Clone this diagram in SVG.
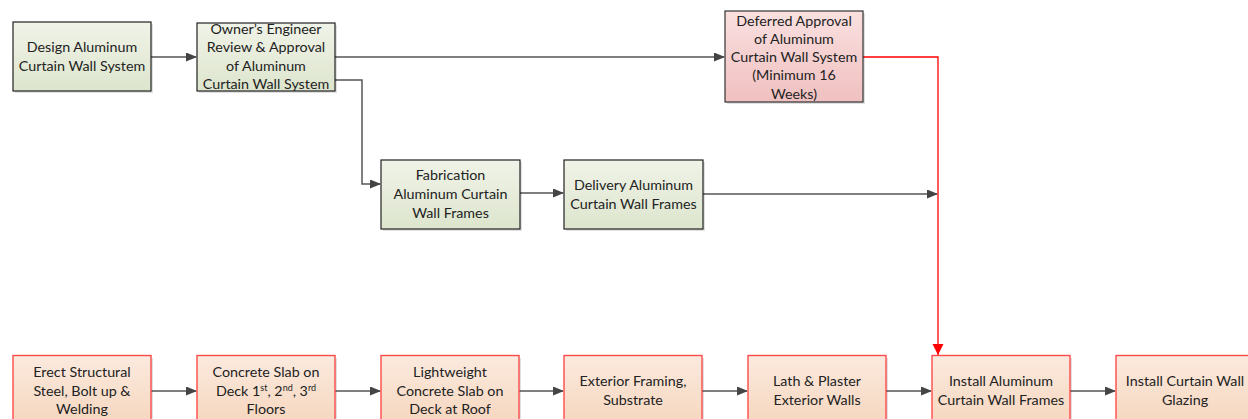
<svg xmlns="http://www.w3.org/2000/svg" width="1248" height="419" viewBox="0 0 1248 419">
<defs>
<linearGradient id="gG" x1="0" y1="0" x2="0" y2="1"><stop offset="0" stop-color="#f0f3e8"/><stop offset="1" stop-color="#dde5cd"/></linearGradient>
<linearGradient id="gP" x1="0" y1="0" x2="0" y2="1"><stop offset="0" stop-color="#fae0e0"/><stop offset="1" stop-color="#f0c0c0"/></linearGradient>
<linearGradient id="gO" x1="0" y1="0" x2="0" y2="1"><stop offset="0" stop-color="#fbeadf"/><stop offset="1" stop-color="#f6d6bd"/></linearGradient>
<marker id="ah" markerWidth="11" markerHeight="9" refX="10" refY="4.5" orient="auto" markerUnits="userSpaceOnUse"><path d="M0,0 L11,4.5 L0,9 z" fill="#444"/></marker>
</defs>
<style>
.sh{fill:#000;opacity:0.12}
.g{fill:url(#gG);stroke:#222;stroke-width:1.2}
.p{fill:url(#gP);stroke:#333;stroke-width:1.2}
.o{fill:url(#gO);stroke:#ff4a4a;stroke-width:1.4}
text{font-family:Lato,"Liberation Sans",sans-serif;font-size:14.3px;fill:#222;text-anchor:middle}
.c{fill:none;stroke:#555;stroke-width:1.5;marker-end:url(#ah)}
.cr{fill:none;stroke:#ff0000;stroke-width:1.3}
</style>
<g id="connectors">
<path class="c" d="M151,57 H196"/>
<path class="c" d="M335,57 H724"/>
<path class="c" d="M335,80 H362 V184 H380"/>
<path class="c" d="M520,193 H563"/>
<path class="c" d="M703,194 H937"/>
<path class="cr" d="M863,57 H938 V355"/>
<path d="M932.5,344 L943.5,344 L938,355 z" fill="#ff0000"/>
<path class="c" d="M151,391 H196"/>
<path class="c" d="M335,391 H380"/>
<path class="c" d="M519,391 H563"/>
<path class="c" d="M702,391 H747"/>
<path class="c" d="M886,391 H931"/>
<path class="c" d="M1070,391 H1115"/>
</g>
<g id="n1"><rect class="sh" x="15" y="24" width="138" height="69"/><rect class="g" x="13" y="22" width="138" height="69"/>
<text x="82" y="52">Design Aluminum</text><text x="82" y="71">Curtain Wall System</text></g>
<g id="n2"><rect class="sh" x="199" y="25" width="138" height="68"/><rect class="g" x="197" y="23" width="138" height="68"/>
<text x="266" y="34">Owner’s Engineer</text><text x="266" y="52">Review &amp; Approval</text><text x="266" y="71">of Aluminum</text><text x="266" y="89">Curtain Wall System</text></g>
<g id="n3"><rect class="sh" x="727" y="13" width="138" height="91"/><rect class="p" x="725" y="11" width="138" height="91"/>
<text x="794" y="25.5">Deferred Approval</text><text x="794" y="43.5">of Aluminum</text><text x="794" y="62">Curtain Wall System</text><text x="794" y="80">(Minimum 16</text><text x="794" y="98.5">Weeks)</text></g>
<g id="n4"><rect class="sh" x="383" y="162" width="139" height="69"/><rect class="g" x="381" y="160" width="139" height="69"/>
<text x="450.5" y="180">Fabrication</text><text x="450.5" y="199">Aluminum Curtain</text><text x="450.5" y="217.5">Wall Frames</text></g>
<g id="n5"><rect class="sh" x="566" y="162" width="139" height="69"/><rect class="g" x="564" y="160" width="139" height="69"/>
<text x="633.5" y="190">Delivery Aluminum</text><text x="633.5" y="208.5">Curtain Wall Frames</text></g>
<g id="b1"><rect class="sh" x="15" y="358" width="138" height="70"/><rect class="o" x="13" y="355.5" width="138" height="70"/>
<text x="82" y="377">Erect Structural</text><text x="82" y="395.5">Steel, Bolt up &amp;</text><text x="82" y="414">Welding</text></g>
<g id="b2"><rect class="sh" x="199" y="358" width="138" height="70"/><rect class="o" x="197" y="355.5" width="138" height="70"/>
<text x="266" y="377">Concrete Slab on</text><text x="266" y="395.5">Deck 1<tspan font-size="9" dy="-5">st</tspan><tspan dy="5">, 2</tspan><tspan font-size="9" dy="-5">nd</tspan><tspan dy="5">, 3</tspan><tspan font-size="9" dy="-5">rd</tspan></text><text x="266" y="414">Floors</text></g>
<g id="b3"><rect class="sh" x="383" y="358" width="138" height="70"/><rect class="o" x="381" y="355.5" width="138" height="70"/>
<text x="450" y="377">Lightweight</text><text x="450" y="395.5">Concrete Slab on</text><text x="450" y="414">Deck at Roof</text></g>
<g id="b4"><rect class="sh" x="566" y="358" width="138" height="70"/><rect class="o" x="564" y="355.5" width="138" height="70"/>
<text x="633" y="386">Exterior Framing,</text><text x="633" y="404.5">Substrate</text></g>
<g id="b5"><rect class="sh" x="750" y="358" width="138" height="70"/><rect class="o" x="748" y="355.5" width="138" height="70"/>
<text x="817" y="386">Lath &amp; Plaster</text><text x="817" y="404.5">Exterior Walls</text></g>
<g id="b6"><rect class="sh" x="934" y="358" width="138" height="70"/><rect class="o" x="932" y="355.5" width="138" height="70"/>
<text x="1001" y="386">Install Aluminum</text><text x="1001" y="404.5">Curtain Wall Frames</text></g>
<g id="b7"><rect class="sh" x="1118" y="358" width="138" height="70"/><rect class="o" x="1116" y="355.5" width="138" height="70"/>
<text x="1185" y="386">Install Curtain Wall</text><text x="1185" y="404.5">Glazing</text></g>
</svg>
